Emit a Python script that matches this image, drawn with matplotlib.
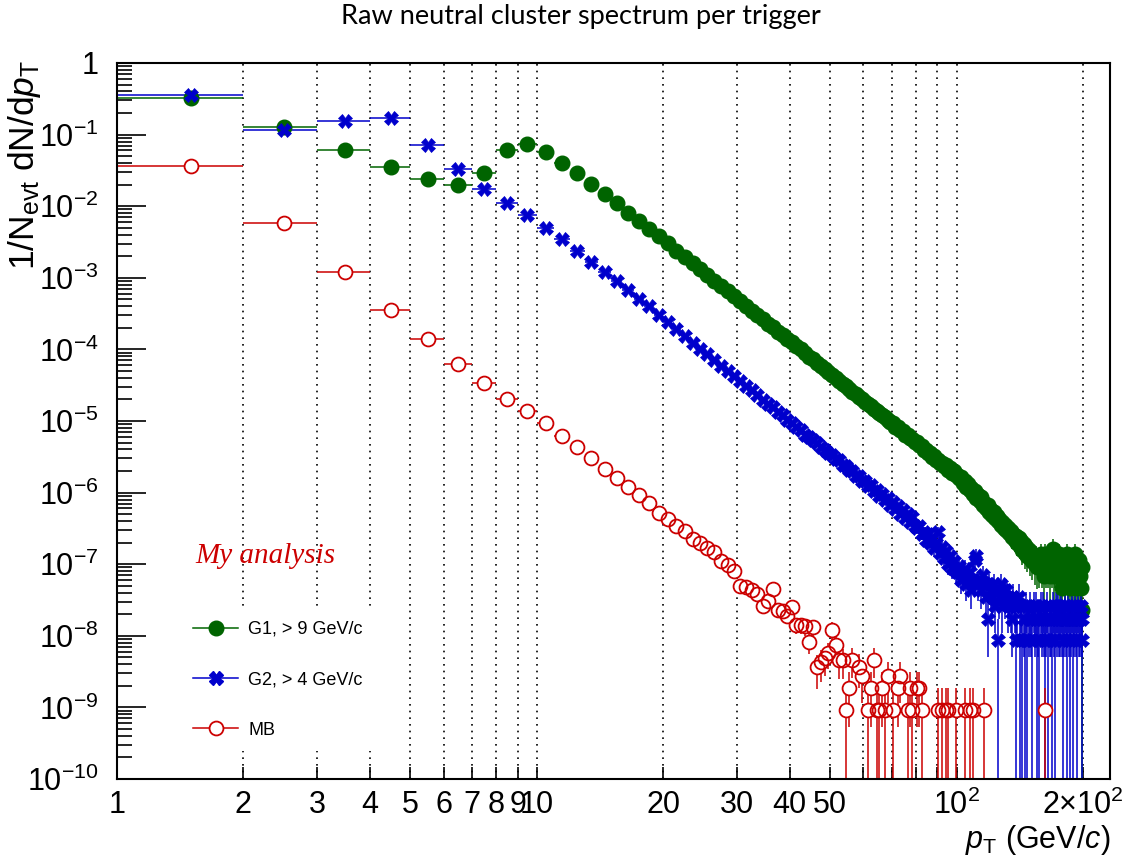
import numpy as np
import matplotlib
matplotlib.use("Agg")
import matplotlib.pyplot as plt
from matplotlib.ticker import FixedLocator, FixedFormatter, LogLocator, NullFormatter
from matplotlib.lines import Line2D

plt.rcParams['font.family'] = ['Liberation Sans', 'DejaVu Sans']
plt.rcParams['mathtext.fontset'] = 'custom'
plt.rcParams['mathtext.rm'] = 'Liberation Sans'
plt.rcParams['mathtext.it'] = 'Liberation Sans:italic'
plt.rcParams['mathtext.bf'] = 'Liberation Sans:bold'

# 1 GeV wide bins from 1 to 200 GeV/c
edges = np.arange(1, 201)
centers = edges[:-1] + 0.5

# G1 trigger (> 9 GeV/c), log10 of 1/Nevt dN/dpT for bins 1-2 ... 155-156
g1_log = [
    -0.49, -0.89, -1.21, -1.45, -1.62, -1.70, -1.54, -1.22, -1.13,
    -1.24, -1.40, -1.54, -1.69, -1.83, -1.96, -2.09, -2.21, -2.32, -2.42,
    -2.52, -2.62, -2.71, -2.80, -2.88,
    -2.96, -3.04, -3.12, -3.19, -3.26, -3.33, -3.39, -3.46, -3.52, -3.58,
    -3.64, -3.69, -3.75, -3.80, -3.85, -3.90, -3.95, -4.00, -4.05, -4.10,
    -4.14, -4.19, -4.23, -4.27, -4.31,
    -4.36, -4.40, -4.44, -4.48, -4.51, -4.55, -4.59, -4.62, -4.66, -4.69,
    -4.73, -4.76, -4.79, -4.83, -4.86, -4.89, -4.92, -4.95, -4.98, -5.01,
    -5.03, -5.08, -5.09, -5.13, -5.14, -5.19, -5.20, -5.24, -5.25, -5.29,
    -5.30, -5.34, -5.35, -5.40, -5.40, -5.44, -5.45, -5.50, -5.49, -5.54,
    -5.54, -5.58, -5.58, -5.63, -5.62, -5.68, -5.66, -5.72, -5.70, -5.76,
    -5.76, -5.80, -5.78, -5.86, -5.84, -5.92, -5.88, -5.97, -5.94, -6.02,
    -5.98, -6.08, -6.03, -6.12, -6.06, -6.17, -6.14, -6.22, -6.18, -6.27,
    -6.24, -6.31, -6.27, -6.36, -6.32, -6.40, -6.37, -6.45, -6.41, -6.50,
    -6.45, -6.52, -6.49, -6.57, -6.53, -6.62, -6.58, -6.66, -6.60, -6.70,
    -6.64, -6.74, -6.68, -6.80, -6.72, -6.84, -6.76, -6.88, -6.80, -6.92,
    -6.84, -6.96, -6.88, -7.00, -6.90, -7.04,
]
# bins 156-157 ... 199-200, in raw counts
g1_tail_counts = [
    5, 4, 6, 4, 5, 3, 6, 4, 5, 4,
    3, 5, 4, 7, 3, 4, 5, 3, 4, 6,
    3, 4, 2, 5, 4, 3, 4, 6, 3, 4,
    2, 5, 3, 4, 3, 6, 2, 4, 3, 5,
    3, 2, 4, 1,
]
g1_unit = 2.3e-8

# G2 trigger (> 4 GeV/c), bins 1-2 ... 99-100
g2_log = [
    -0.44, -0.93, -0.81, -0.77, -1.14, -1.48, -1.76, -1.96, -2.12,
    -2.31, -2.46, -2.63, -2.78, -2.92, -3.05, -3.17, -3.30, -3.40, -3.52,
    -3.62, -3.72, -3.81, -3.91, -3.99,
    -4.07, -4.15, -4.23, -4.30, -4.37, -4.44, -4.51, -4.57, -4.64, -4.70,
    -4.76, -4.81, -4.87, -4.92, -4.98, -5.03, -5.08, -5.13, -5.19, -5.22,
    -5.27, -5.31, -5.36, -5.40, -5.44,
    -5.47, -5.53, -5.55, -5.62, -5.63, -5.69, -5.70, -5.77, -5.77, -5.84,
    -5.84, -5.91, -5.90, -5.98, -5.96, -6.05, -6.02, -6.11, -6.08, -6.17,
    -6.13, -6.23, -6.19, -6.30, -6.24, -6.35, -6.30, -6.41, -6.34, -6.46,
    -6.50, -6.46, -6.58, -6.55, -6.66, -6.58, -6.70, -6.64, -6.78, -6.70,
    -6.55, -6.84, -6.76, -6.92, -6.82, -7.00, -6.88, -7.05, -6.95, -7.10,
]
# bins 100-101 ... 199-200, in raw counts
g2_tail_counts = [
    9, 11, 7, 8, 10, 6, 7, 9, 5, 7,
    13, 15, 6, 7, 5, 8, 6, 4, 2, 6,
    5, 4, 6, 3, 5, 1, 4, 6, 3, 5,
    4, 5, 3, 4, 3, 2, 4, 3, 1, 3,
    4, 1, 3, 1, 2, 1, 3, 1, 2, 3,
    2, 1, 3, 2, 3, 1, 2, 1, 3, 2,
    3, 2, 1, 2, 3, 1, 2, 2, 1, 3,
    2, 1, 3, 2, 3, 2, 2, 3, 2, 1,
    2, 3, 2, 1, 3, 2, 1, 2, 3, 1,
    2, 3, 2, 1, 3, 2, 2, 3, 2, 1,
]
g2_unit = 8.7e-9

# minimum bias, bins 1-2 ... 53-54
mb_log = [
    -1.44, -2.23, -2.92, -3.45, -3.85, -4.20, -4.47, -4.69, -4.86,
    -5.03, -5.21, -5.37, -5.51, -5.67, -5.79, -5.92, -6.04, -6.15, -6.28,
    -6.37, -6.47, -6.54, -6.65, -6.71,
    -6.78, -6.83, -6.96, -7.01, -7.09, -7.31, -7.32, -7.36, -7.41, -7.58,
    -7.52, -7.35, -7.64, -7.66, -7.73, -7.60, -7.85,
    -7.85, -7.87, -8.08, -7.88, -8.44, -8.37, -8.31, -8.24, -7.92, -8.13,
    -8.34, -8.34,
]
# non-empty high pT bins (bin centre, raw counts)
mb_tail_pt = [54.5, 55.5, 56.5, 58.5, 59.5, 61.5, 62.5, 63.5, 64.5, 65.5,
              66.5, 67.5, 68.5, 70.5, 72.5, 73.5, 76.5, 77.5, 78.5, 80.5,
              81.5, 82.5, 90.5, 92.5, 94.5, 95.5, 99.5, 104.5, 107.5, 109.5,
              116.5, 162.5]
mb_tail_counts = [1, 2, 5, 4, 3, 1, 2, 5, 1, 1,
                  2, 1, 3, 1, 2, 3, 1, 2, 1, 2,
                  2, 1, 1, 1, 1, 1, 1, 1, 1, 1,
                  1, 1]
mb_unit = 9.2e-10

labels = ["G1, > 9 GeV/c", "G2, > 4 GeV/c", "MB"]
colors = ["#006400", "#0000cc", "#cc0000"]

g1 = np.concatenate([10.0 ** np.array(g1_log), np.array(g1_tail_counts) * g1_unit])
g2 = np.concatenate([10.0 ** np.array(g2_log), np.array(g2_tail_counts) * g2_unit])
mb = np.zeros(len(centers))
mb[:len(mb_log)] = 10.0 ** np.array(mb_log)
mb[np.searchsorted(centers, mb_tail_pt)] = np.array(mb_tail_counts) * mb_unit


def draw_hist(ax, y, unit, color, hollow=False, **mk):
    m = y > 0
    x, yy = centers[m], y[m]
    err = np.sqrt(yy * unit)
    lo = np.minimum(err, yy * (1 - 1e-9))
    ax.errorbar(x, yy, xerr=0.5, yerr=[lo, err], fmt='none', ecolor=color,
                elinewidth=1.1, capsize=0, zorder=2)
    if hollow:
        # blank out the error bar inside the open marker
        ax.plot(x, yy, ls='none', marker='o', mfc='white', mec='none',
                ms=mk['ms'], zorder=2.1)
        ax.plot(x, yy, ls='none', marker='o', mfc='none', mec=color,
                mew=1.3, ms=mk['ms'], zorder=2.2)
    else:
        ax.plot(x, yy, ls='none', color=color, zorder=2.1, **mk)


fig = plt.figure(figsize=(11.24, 8.65), dpi=100)
ax = fig.add_axes([117 / 1124, 1 - 779 / 865, 993 / 1124, 716 / 865])

draw_hist(ax, g1, g1_unit, colors[0], marker='o', ms=10.5, mec=colors[0])
draw_hist(ax, g2, g2_unit, colors[1], marker='X', ms=9.5, mec=colors[1], mew=0.5)
draw_hist(ax, mb, mb_unit, colors[2], hollow=True, ms=10)

ax.set_xscale('log')
ax.set_yscale('log')
ax.set_xlim(1, 232)
ax.set_ylim(1e-10, 1)

xt = [1, 2, 3, 4, 5, 6, 7, 8, 9, 10, 20, 30, 40, 50, 100, 200]
xl = ['1', '2', '3', '4', '5', '6', '7', '8', '9', '10', '20', '30', '40', '50',
      r'$10^{2}$', r'$2{\times}10^{2}$']
ax.xaxis.set_major_locator(FixedLocator(xt))
ax.xaxis.set_major_formatter(FixedFormatter(xl))
ax.xaxis.set_minor_locator(FixedLocator([60, 70, 80, 90]))
ax.xaxis.set_minor_formatter(NullFormatter())

yt = 10.0 ** np.arange(-10, 1)
yl = [r'$10^{%d}$' % k for k in range(-10, 0)] + ['1']
ax.yaxis.set_major_locator(FixedLocator(yt))
ax.yaxis.set_major_formatter(FixedFormatter(yl))
ax.yaxis.set_minor_locator(LogLocator(base=10, subs=np.arange(2, 10), numticks=100))
ax.yaxis.set_minor_formatter(NullFormatter())

ax.tick_params(axis='both', which='both', direction='in', top=False, right=False,
               labelsize=22, width=1.2)
ax.tick_params(axis='y', which='major', length=21, pad=13)
ax.tick_params(axis='y', which='minor', length=11)
ax.tick_params(axis='x', which='both', length=9, pad=8)
for s in ax.spines.values():
    s.set_linewidth(1.5)

ax.set_axisbelow(True)
ax.grid(True, axis='x', which='both', color='black', linestyle=(0, (1, 3)), linewidth=1.2)
ax.grid(False, axis='y', which='both')

ax.text(0.0785, 0.311, 'My analysis', transform=ax.transAxes, color='#cc0000',
        fontsize=21, family=['Liberation Serif'], style='italic', va='center')

handles = [
    Line2D([], [], color=colors[0], lw=1.1, marker='o', ms=10.5),
    Line2D([], [], color=colors[1], lw=1.1, marker='X', ms=9.5),
    Line2D([], [], color=colors[2], lw=1.1, marker='o', ms=10, mfc='white', mew=1.3),
]
ax.legend(handles, labels, loc='lower left', bbox_to_anchor=(0.055, 0.026),
          frameon=True, fancybox=False, facecolor='white', edgecolor='none',
          framealpha=1, fontsize=13, handlelength=2.5, handletextpad=0.55,
          labelspacing=1.85, borderpad=0.7)

fig.text(0.517, 0.995, 'Raw neutral cluster spectrum per trigger', ha='center', va='top',
         fontsize=19.5, family=['Lato', 'DejaVu Sans'])
fig.text(25 / 1124, 1 - 60 / 865, r'1/N$_{\rm evt}$ dN/d$p_{\rm T}$', rotation=90,
         ha='center', va='top', fontsize=25.5)
fig.text(1110 / 1124, 1 - 823 / 865, r'$p_{\rm T}$ (GeV/$c$)', ha='right', va='top',
         fontsize=22)

fig.savefig('out.png', dpi=100)
